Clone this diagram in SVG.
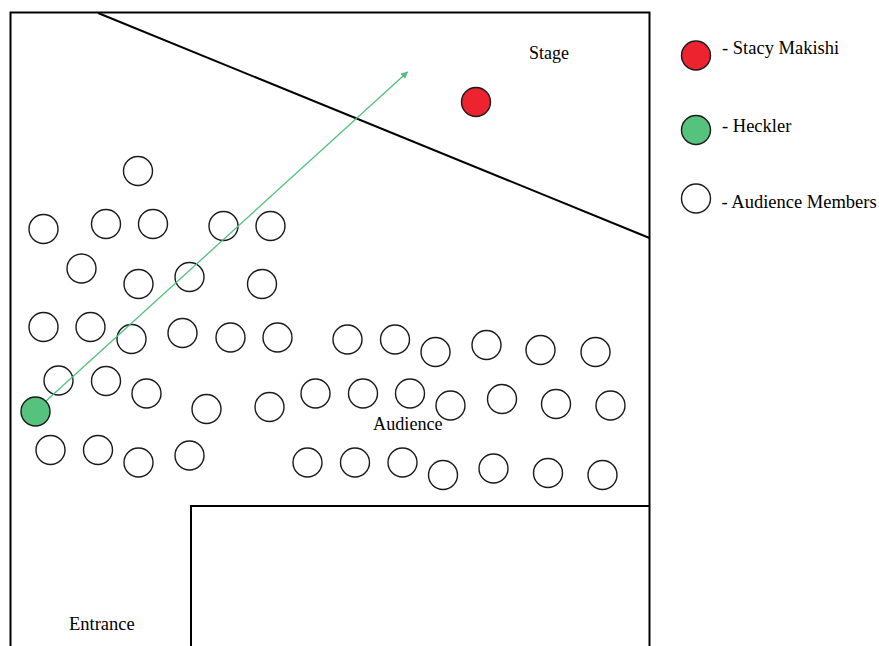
<svg xmlns="http://www.w3.org/2000/svg" width="879" height="646" viewBox="0 0 879 646">
<style>
.wall{fill:none;stroke:#000;stroke-width:2}
.aud{fill:#fff;stroke:#1a1a1a;stroke-width:1.4}
.stacy{fill:#ed2330;stroke:#1a1a1a;stroke-width:1.4}
.heckler{fill:#55c27e;stroke:#1a1a1a;stroke-width:1.4}
.lbl{font-family:"Liberation Serif","Times New Roman",serif;fill:#000}
</style>
<defs>
<marker id="ah" viewBox="0 0 10 10" refX="9" refY="5" markerWidth="7" markerHeight="7" orient="auto" markerUnits="userSpaceOnUse">
<path d="M0,0 L10,5 L0,10 z" fill="#52c07c"/>
</marker>
</defs>
<rect width="879" height="646" fill="#fff"/>
<g id="room">
<polyline class="wall" points="10.5,646 10.5,12.5 649.5,12.5 649.5,646"/>
<line class="wall" x1="98" y1="13" x2="649.5" y2="238"/>
<polyline class="wall" points="191,646 191,506 649.5,506"/>
</g>
<g id="labels">
<text class="lbl" x="529" y="59" font-size="18">Stage</text>
<text class="lbl" x="373" y="430" font-size="18.2">Audience</text>
<text class="lbl" x="69" y="630" font-size="18.5">Entrance</text>
</g>
<g id="audience">
<circle class="aud" cx="138" cy="171" r="14.5"/>
<circle class="aud" cx="43.5" cy="229" r="14.5"/>
<circle class="aud" cx="106" cy="224" r="14.5"/>
<circle class="aud" cx="153" cy="224" r="14.5"/>
<circle class="aud" cx="223.5" cy="226" r="14.5"/>
<circle class="aud" cx="270.5" cy="226" r="14.5"/>
<circle class="aud" cx="81.5" cy="268.5" r="14.5"/>
<circle class="aud" cx="138.5" cy="284" r="14.5"/>
<circle class="aud" cx="189.5" cy="277" r="14.5"/>
<circle class="aud" cx="262" cy="284" r="14.5"/>
<circle class="aud" cx="43.5" cy="327" r="14.5"/>
<circle class="aud" cx="90.5" cy="327" r="14.5"/>
<circle class="aud" cx="131.5" cy="339" r="14.5"/>
<circle class="aud" cx="182.5" cy="333" r="14.5"/>
<circle class="aud" cx="230.5" cy="337.5" r="14.5"/>
<circle class="aud" cx="277.5" cy="337.5" r="14.5"/>
<circle class="aud" cx="347.5" cy="339.5" r="14.5"/>
<circle class="aud" cx="395" cy="339.5" r="14.5"/>
<circle class="aud" cx="435.5" cy="352" r="14.5"/>
<circle class="aud" cx="486.5" cy="345" r="14.5"/>
<circle class="aud" cx="540.5" cy="350" r="14.5"/>
<circle class="aud" cx="595.5" cy="352" r="14.5"/>
<circle class="aud" cx="58.5" cy="380.5" r="14.5"/>
<circle class="aud" cx="106" cy="381" r="14.5"/>
<circle class="aud" cx="146.5" cy="393.5" r="14.5"/>
<circle class="aud" cx="206.5" cy="409" r="14.5"/>
<circle class="aud" cx="269.5" cy="407" r="14.5"/>
<circle class="aud" cx="315.5" cy="393.5" r="14.5"/>
<circle class="aud" cx="363" cy="393.5" r="14.5"/>
<circle class="aud" cx="410" cy="393.5" r="14.5"/>
<circle class="aud" cx="450.5" cy="405.5" r="14.5"/>
<circle class="aud" cx="502" cy="399" r="14.5"/>
<circle class="aud" cx="556" cy="404" r="14.5"/>
<circle class="aud" cx="610.5" cy="405.5" r="14.5"/>
<circle class="aud" cx="50.5" cy="450" r="14.5"/>
<circle class="aud" cx="98" cy="450" r="14.5"/>
<circle class="aud" cx="138.5" cy="462.5" r="14.5"/>
<circle class="aud" cx="189.5" cy="455.5" r="14.5"/>
<circle class="aud" cx="307.5" cy="462.5" r="14.5"/>
<circle class="aud" cx="355" cy="462.5" r="14.5"/>
<circle class="aud" cx="402.5" cy="462.5" r="14.5"/>
<circle class="aud" cx="443" cy="475" r="14.5"/>
<circle class="aud" cx="493.5" cy="468.5" r="14.5"/>
<circle class="aud" cx="548" cy="473" r="14.5"/>
<circle class="aud" cx="602.5" cy="475" r="14.5"/>
</g>
<g id="connectors">
<line x1="46" y1="401" x2="407.5" y2="72" stroke="#52c07c" stroke-width="1.3" marker-end="url(#ah)"/>
</g>
<g id="stacy">
<circle class="stacy" cx="476" cy="102" r="14.5"/>
</g>
<g id="heckler">
<circle class="heckler" cx="35.5" cy="411.5" r="14.5"/>
</g>
<g id="legend">
<circle class="stacy" cx="696" cy="55.5" r="14.5"/>
<text class="lbl" x="722" y="54" font-size="18.5">- Stacy Makishi</text>
<circle class="heckler" cx="696" cy="130" r="14.5"/>
<text class="lbl" x="722" y="132" font-size="18.5">- Heckler</text>
<circle class="aud" cx="696" cy="198.5" r="14.5"/>
<text class="lbl" x="721.5" y="208" font-size="18.5">- Audience Members</text>
</g>
</svg>
